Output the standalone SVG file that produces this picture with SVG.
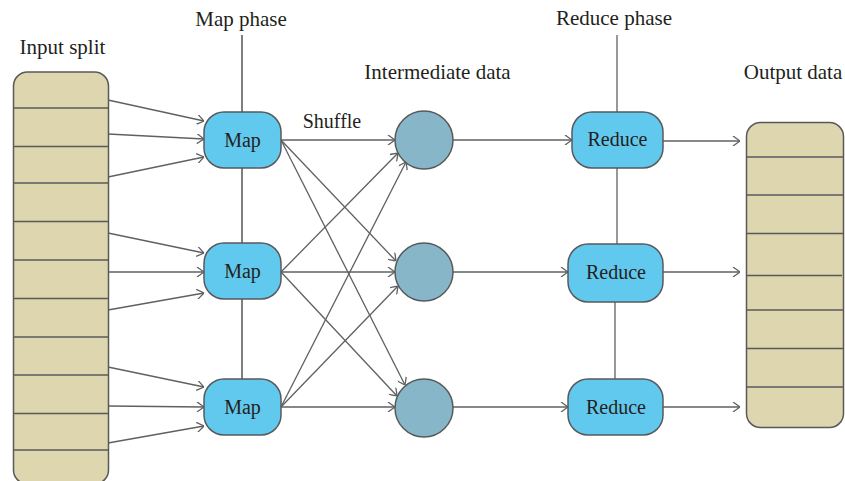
<svg xmlns="http://www.w3.org/2000/svg" width="845" height="481" viewBox="0 0 845 481">
<style>
text{font-family:"Liberation Serif","Times New Roman",serif;font-size:20px;fill:#231f20}
.c{text-anchor:middle}
.t{font-size:21px}
.box{fill:#62c9ee;stroke:#58595b;stroke-width:1.5}
.store{fill:#ded6ae;stroke:#58595b;stroke-width:1.5}
.div{stroke:#58595b;stroke-width:1.5}
.circ{fill:#87b6c8;stroke:#58595b;stroke-width:1.5}
.ln{stroke:#5f6062;stroke-width:1.3;fill:none}
.ar{stroke:#5f6062;stroke-width:1.3;fill:none;marker-end:url(#arr)}
.ph{stroke:#3a3a3c;stroke-width:1.3}
</style>
<defs>
<marker id="arr" viewBox="0 0 10 10" refX="10" refY="5" markerWidth="10" markerHeight="10" markerUnits="userSpaceOnUse" orient="auto">
<path d="M3,0 L10,5 L3,10" fill="none" stroke="#5f6062" stroke-width="1.3"/>
</marker>
</defs>

<g id="labels">
<text class="c t" x="62.5" y="54">Input split</text>
<text class="c t" x="241" y="26">Map phase</text>
<text class="c" x="332" y="128">Shuffle</text>
<text class="c t" x="437.5" y="79">Intermediate data</text>
<text class="c t" x="614" y="25">Reduce phase</text>
<text class="c t" x="793" y="79">Output data</text>
</g>

<g id="connectors">
<line class="ph" x1="242" y1="35" x2="242" y2="112"/>
<line class="ph" x1="242" y1="168" x2="242" y2="243"/>
<line class="ph" x1="242" y1="299" x2="242" y2="379"/>
<line class="ln" x1="617" y1="35" x2="617" y2="112"/>
<line class="ln" x1="617" y1="168" x2="617" y2="244"/>
<line class="ln" x1="615" y1="302" x2="615" y2="379"/>

<line class="ar" x1="108" y1="100" x2="204" y2="121"/>
<line class="ar" x1="108" y1="134" x2="204" y2="139"/>
<line class="ar" x1="108" y1="177" x2="204" y2="157"/>
<line class="ar" x1="108" y1="233" x2="204" y2="253"/>
<line class="ar" x1="108" y1="272" x2="204" y2="272"/>
<line class="ar" x1="108" y1="310" x2="204" y2="293"/>
<line class="ar" x1="108" y1="367" x2="204" y2="387"/>
<line class="ar" x1="108" y1="406" x2="204" y2="407"/>
<line class="ar" x1="108" y1="443" x2="204" y2="426"/>

<line class="ar" x1="281" y1="140" x2="395" y2="140"/>
<line class="ar" x1="281" y1="140" x2="396" y2="261"/>
<line class="ar" x1="281" y1="140" x2="405" y2="385"/>
<line class="ar" x1="281" y1="272" x2="398" y2="153"/>
<line class="ar" x1="281" y1="272" x2="395" y2="272"/>
<line class="ar" x1="281" y1="272" x2="397" y2="396"/>
<line class="ar" x1="281" y1="407" x2="406" y2="162"/>
<line class="ar" x1="281" y1="407" x2="398" y2="286"/>
<line class="ar" x1="281" y1="407" x2="395" y2="407"/>

<line class="ar" x1="453" y1="140" x2="572" y2="140"/>
<line class="ar" x1="453" y1="272" x2="568" y2="272"/>
<line class="ar" x1="453" y1="407" x2="568" y2="407"/>

<line class="ar" x1="663" y1="141" x2="740" y2="141"/>
<line class="ar" x1="663" y1="272" x2="740" y2="272"/>
<line class="ar" x1="663" y1="407" x2="740" y2="407"/>
</g>

<g id="input-split">
<rect class="store" x="13.5" y="72" width="95" height="412" rx="14"/>
<line class="div" x1="13.5" y1="108" x2="108.5" y2="108"/>
<line class="div" x1="13.5" y1="146.5" x2="108.5" y2="146.5"/>
<line class="div" x1="13.5" y1="183" x2="108.5" y2="183"/>
<line class="div" x1="13.5" y1="221.5" x2="108.5" y2="221.5"/>
<line class="div" x1="13.5" y1="260" x2="108.5" y2="260"/>
<line class="div" x1="13.5" y1="298.5" x2="108.5" y2="298.5"/>
<line class="div" x1="13.5" y1="337" x2="108.5" y2="337"/>
<line class="div" x1="13.5" y1="375" x2="108.5" y2="375"/>
<line class="div" x1="13.5" y1="413.5" x2="108.5" y2="413.5"/>
<line class="div" x1="13.5" y1="450" x2="108.5" y2="450"/>
</g>

<g id="map1"><rect class="box" x="204" y="112" width="77" height="56" rx="20"/><text class="c" x="242.5" y="147">Map</text></g>
<g id="map2"><rect class="box" x="204" y="243" width="77" height="56" rx="20"/><text class="c" x="242.5" y="278">Map</text></g>
<g id="map3"><rect class="box" x="204" y="379" width="77" height="56" rx="20"/><text class="c" x="242.5" y="414">Map</text></g>

<g id="inter1"><circle class="circ" cx="424" cy="140" r="29"/></g>
<g id="inter2"><circle class="circ" cx="424" cy="272" r="29"/></g>
<g id="inter3"><circle class="circ" cx="424" cy="408" r="29"/></g>

<g id="reduce1"><rect class="box" x="572" y="112" width="91" height="56" rx="20"/><text class="c" x="617.5" y="146">Reduce</text></g>
<g id="reduce2"><rect class="box" x="568" y="244" width="95" height="58" rx="20"/><text class="c" x="616" y="279">Reduce</text></g>
<g id="reduce3"><rect class="box" x="568" y="379" width="95" height="56" rx="20"/><text class="c" x="616" y="414">Reduce</text></g>

<g id="output-data">
<rect class="store" x="746.5" y="122.5" width="97" height="305" rx="14"/>
<line class="div" x1="746.5" y1="157" x2="843.5" y2="157"/>
<line class="div" x1="746.5" y1="195" x2="843.5" y2="195"/>
<line class="div" x1="746.5" y1="233.5" x2="843.5" y2="233.5"/>
<line class="div" x1="746.5" y1="275.5" x2="842" y2="275.5"/>
<line class="div" x1="746.5" y1="310" x2="843.5" y2="310"/>
<line class="div" x1="746.5" y1="348.5" x2="843.5" y2="348.5"/>
<line class="div" x1="746.5" y1="387" x2="843.5" y2="387"/>
</g>
</svg>
